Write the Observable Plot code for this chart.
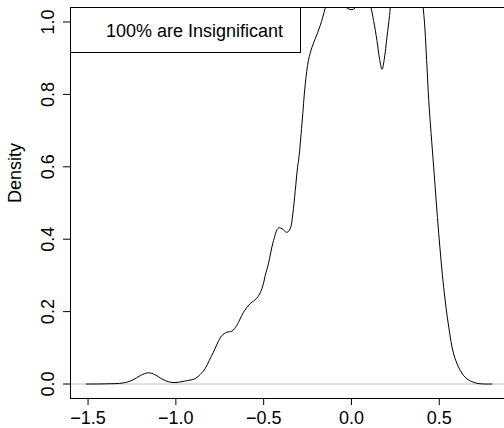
<!DOCTYPE html>
<html>
<head>
<meta charset="utf-8">
<script src="https://cdn.jsdelivr.net/npm/d3@7"></script>
<script src="https://cdn.jsdelivr.net/npm/@observablehq/plot@0.6"></script>
<style>
  html, body { margin: 0; padding: 0; background: #fff; overflow: hidden; }
  #wrap { position: relative; width: 504px; height: 428px; font-family: "Liberation Sans", Arial, Helvetica, sans-serif; }
  #legend { position: absolute; left: 70px; top: 7px; width: 231px; height: 46px; box-sizing: border-box; border: 1px solid #000; background: #fff; }
  #legend span { position: absolute; left: 35px; top: 14px; font-size: 18px; line-height: 18px; color: #000; white-space: nowrap; }
</style>
</head>
<body>
<div id="wrap"></div>
<script>
// Density curve
const densX = [-1.51, -1.40, -1.30, -1.25, -1.20, -1.157, -1.12, -1.08, -1.04, -1.005, -0.95, -0.89, -0.86, -0.834, -0.81, -0.786, -0.76, -0.738, -0.71, -0.681, -0.653, -0.615, -0.577, -0.539, -0.51, -0.491, -0.473, -0.444, -0.416, -0.396, -0.368, -0.349, -0.334, -0.32, -0.307, -0.30, -0.282, -0.263, -0.245, -0.225, -0.206, -0.178, -0.149, -0.12, -0.08, -0.04, 0.003, 0.04, 0.08, 0.111, 0.126, 0.145, 0.160, 0.174, 0.187, 0.202, 0.217, 0.225, 0.26, 0.32, 0.37, 0.408, 0.43, 0.44, 0.468, 0.497, 0.525, 0.554, 0.582, 0.62, 0.658, 0.715, 0.80];
const densY = [0, 0.0005, 0.003, 0.01, 0.024, 0.031, 0.026, 0.014, 0.006, 0.004, 0.008, 0.015, 0.027, 0.042, 0.065, 0.088, 0.116, 0.134, 0.143, 0.146, 0.162, 0.198, 0.222, 0.237, 0.263, 0.30, 0.332, 0.396, 0.431, 0.429, 0.419, 0.429, 0.470, 0.535, 0.599, 0.622, 0.719, 0.829, 0.894, 0.930, 0.954, 0.990, 1.04, 1.10, 1.10, 1.045, 1.034, 1.05, 1.10, 1.04, 1.004, 0.949, 0.898, 0.869, 0.898, 0.958, 1.018, 1.06, 1.15, 1.2, 1.15, 1.04, 0.875, 0.783, 0.599, 0.415, 0.267, 0.157, 0.083, 0.037, 0.014, 0.002, 0];
const xTicks = [-1.5, -1.0, -0.5, 0.0, 0.5];
const yTicks = [0.0, 0.2, 0.4, 0.6, 0.8, 1.0];
const xDomain = [-1.6, 0.8714];
const yDomain = [-0.04, 1.04];
const yLabel = "Density";
const legendText = "100% are Insignificant";

const data = densX.map((x, i) => ({x, y: densY[i]}));
const fmt = d3.format(".1f");

const chart = Plot.plot({
  width: 504,
  height: 428,
  marginLeft: 70,
  marginRight: 0,
  marginTop: 7,
  marginBottom: 30,
  style: {fontFamily: "'Liberation Sans', Arial, Helvetica, sans-serif", fontSize: "18px", color: "#000", background: "#fff"},
  x: {domain: xDomain},
  y: {domain: yDomain},
  marks: [
    Plot.ruleY([0], {stroke: "#bebebe", strokeWidth: 1}),
    Plot.line(data, {x: "x", y: "y", curve: "catmull-rom", stroke: "#000", strokeWidth: 1, clip: true}),
    Plot.ruleX([xDomain[0]], {stroke: "#000"}),
    Plot.ruleY(yDomain, {stroke: "#000"}),
    Plot.axisX({ticks: xTicks, tickSize: 7, tickPadding: 6, tickFormat: fmt, fontSize: 18, label: null}),
    Plot.axisY({ticks: yTicks, tickSize: 7, tickPadding: 10, tickRotate: -90, tickFormat: fmt, fontSize: 18, label: null}),
    Plot.text([yLabel], {frameAnchor: "left", text: d => d, rotate: -90, dx: -55, fontSize: 18})
  ]
});
const wrap = document.getElementById("wrap");
wrap.appendChild(chart);
const leg = document.createElement("div");
leg.id = "legend";
const sp = document.createElement("span");
sp.textContent = legendText;
leg.appendChild(sp);
wrap.appendChild(leg);
</script>
</body>
</html>
